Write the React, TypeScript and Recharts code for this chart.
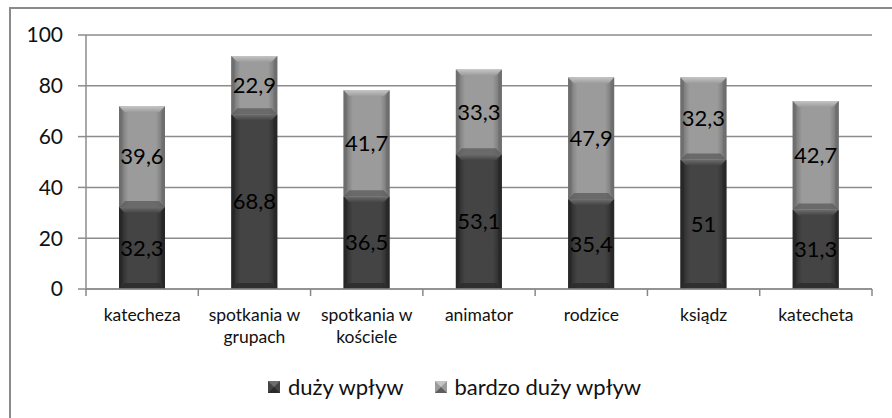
import React from "react";
import {
  BarChart,
  Bar,
  XAxis,
  YAxis,
  CartesianGrid,
  LabelList,
} from "recharts";

const categories = [
  "katecheza",
  "spotkania w grupach",
  "spotkania w kościele",
  "animator",
  "rodzice",
  "ksiądz",
  "katecheta",
];
const duzyWplyw = [32.3, 68.8, 36.5, 53.1, 35.4, 51, 31.3];
const bardzoDuzyWplyw = [39.6, 22.9, 41.7, 33.3, 47.9, 32.3, 42.7];
const yTicks = [0, 20, 40, 60, 80, 100];
const seriesNames = ["duży wpływ", "bardzo duży wpływ"];

const data = categories.map((name, i) => ({
  name,
  duzy: duzyWplyw[i],
  bardzo: bardzoDuzyWplyw[i],
}));

const FONT = "Lato, 'Open Sans', sans-serif";
const W = 892;
const H = 418;
const PLOT_LEFT = 86;
const PLOT_RIGHT = 872;
const BAND = (PLOT_RIGHT - PLOT_LEFT) / categories.length;

const palette = {
  dark: { side: "#262626", mid: "#444444", top: "#6e6e6e", bottom: "#2b2b2b" },
  light: { side: "#6c6c6c", mid: "#9b9b9b", top: "#c4c4c4", bottom: "#5e5e5e" },
};

const makeShape = (kind: "dark" | "light") => (props: any) => {
  const { x, y, width, height } = props;
  if (!height || height <= 0) return null;
  const c = palette[kind];
  const b = Math.min(6, height / 3);
  return (
    <g>
      <rect x={x} y={y} width={width} height={height} fill={`url(#grad-${kind})`} />
      <polygon
        points={`${x},${y} ${x + width},${y} ${x + width - b},${y + b} ${x + b},${y + b}`}
        fill={`url(#top-${kind})`}
      />
      <polygon
        points={`${x},${y + height} ${x + width},${y + height} ${x + width - b},${y + height - b} ${x + b},${y + height - b}`}
        fill={c.bottom}
        opacity={0.8}
      />
      <polygon
        points={`${x},${y} ${x + b * 0.6},${y + b} ${x + b * 0.6},${y + height - b} ${x},${y + height}`}
        fill={c.side}
        opacity={0.7}
      />
      <polygon
        points={`${x + width},${y} ${x + width - b * 0.6},${y + b} ${x + width - b * 0.6},${y + height - b} ${x + width},${y + height}`}
        fill={c.side}
        opacity={0.7}
      />
    </g>
  );
};

const CategoryTick = (props: any) => {
  const { x, y, payload, index } = props;
  const words = String(payload.value).split(" ");
  const lines: string[] = [];
  let cur = "";
  words.forEach((w) => {
    const next = cur ? cur + " " + w : w;
    if (next.length > 11 && cur) {
      lines.push(cur);
      cur = w;
    } else cur = next;
  });
  if (cur) lines.push(cur);
  return (
    <g>
      <line x1={x - BAND / 2} x2={x - BAND / 2} y1={y - 8} y2={y - 1} stroke="#888" strokeWidth={1.5} />
      {index === categories.length - 1 && (
        <line x1={x + BAND / 2} x2={x + BAND / 2} y1={y - 8} y2={y - 1} stroke="#888" strokeWidth={1.5} />
      )}
      {lines.map((l, i) => (
        <text
          key={i}
          x={x}
          y={y + 24 + i * 22}
          textAnchor="middle"
          fontSize={17.5}
          fontFamily={FONT}
          fill="#111"
        >
          {l}
        </text>
      ))}
    </g>
  );
};

const fmt = (v: any) => String(v).replace(".", ",");

const LegendSwatch = ({ kind }: { kind: "dark" | "light" }) => (
  <svg width={12} height={12} style={{ marginRight: 8 }}>
    <rect width={12} height={12} fill={palette[kind].mid} />
    <polygon points="0,0 12,0 6,6" fill={palette[kind].top} />
    <polygon points="0,12 12,12 6,6" fill={palette[kind].bottom} />
  </svg>
);

const labelStyle = { fontSize: 22, fontFamily: FONT, fill: "#000" };

export default function App() {
  return (
    <div style={{ position: "absolute", left: 0, top: 0, width: W, height: H, background: "#fff", overflow: "hidden" }}>
      <div
        style={{
          position: "absolute",
          left: 9,
          top: 7,
          width: W,
          height: H,
          borderLeft: "2px solid #8a8a8a",
          borderTop: "2px solid #8a8a8a",
        }}
      />
      <div style={{ position: "absolute", left: 0, top: 0 }}>
        <BarChart
          width={W}
          height={H}
          data={data}
          margin={{ top: 35, right: W - PLOT_RIGHT, bottom: 79, left: PLOT_LEFT - 60 }}
          barSize={46}
        >
          <defs>
            {(["dark", "light"] as const).map((k) => (
              <linearGradient key={k} id={`grad-${k}`} x1="0" y1="0" x2="1" y2="0">
                <stop offset="0%" stopColor={palette[k].side} />
                <stop offset="20%" stopColor={palette[k].mid} />
                <stop offset="80%" stopColor={palette[k].mid} />
                <stop offset="100%" stopColor={palette[k].side} />
              </linearGradient>
            ))}
            {(["dark", "light"] as const).map((k) => (
              <linearGradient key={k} id={`top-${k}`} x1="0" y1="0" x2="0" y2="1">
                <stop offset="0%" stopColor={palette[k].top} />
                <stop offset="100%" stopColor={palette[k].mid} />
              </linearGradient>
            ))}
          </defs>
          <CartesianGrid vertical={false} stroke="#8c8c8c" strokeWidth={1.5} />
          <XAxis
            dataKey="name"
            height={50}
            axisLine={{ stroke: "#8c8c8c", strokeWidth: 1.5 }}
            tickLine={false}
            tick={<CategoryTick />}
            interval={0}
          />
          <YAxis
            width={60}
            domain={[0, 100]}
            ticks={yTicks}
            axisLine={{ stroke: "#8c8c8c", strokeWidth: 1.5 }}
            tickLine={{ stroke: "#8c8c8c", strokeWidth: 1.5 }}
            tickSize={8}
            tickMargin={15}
            tick={{ fontSize: 21, fontFamily: FONT, fill: "#111" }}
          />
          <Bar dataKey="duzy" stackId="a" name={seriesNames[0]} shape={makeShape("dark")} isAnimationActive={false}>
            <LabelList dataKey="duzy" position="center" formatter={fmt} style={labelStyle} />
          </Bar>
          <Bar dataKey="bardzo" stackId="a" name={seriesNames[1]} shape={makeShape("light")} isAnimationActive={false}>
            <LabelList dataKey="bardzo" position="center" formatter={fmt} style={labelStyle} />
          </Bar>
        </BarChart>
      </div>
      <div
        style={{
          position: "absolute",
          left: 268,
          top: 373,
          display: "flex",
          alignItems: "center",
          fontFamily: FONT,
          fontSize: 22,
          color: "#111",
          whiteSpace: "nowrap",
        }}
      >
        <LegendSwatch kind="dark" />
        <span style={{ marginRight: 31 }}>{seriesNames[0]}</span>
        <LegendSwatch kind="light" />
        <span>{seriesNames[1]}</span>
      </div>
    </div>
  );
}
